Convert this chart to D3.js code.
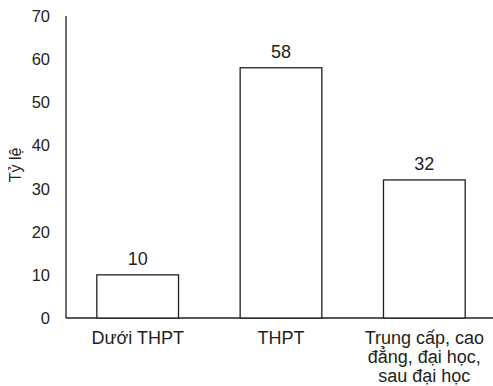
<!DOCTYPE html>
<html><head><meta charset="utf-8">
<script src="https://cdn.jsdelivr.net/npm/d3@7"></script>
<style>body{margin:0;background:#fff}svg{display:block}text{font-family:"Liberation Sans",Arial,sans-serif;fill:#231f20}</style>
</head><body>
<svg id="c" width="493" height="386"></svg>
<script>
const categories = [["Dưới THPT"], ["THPT"], ["Trung cấp, cao", "đẳng, đại học,", "sau đại học"]];
const values = [10, 58, 32];
const yTicks = [0, 10, 20, 30, 40, 50, 60, 70];
const yTitle = "Tỷ lệ";

const svg = d3.select("#c");
const x0 = 66, x1 = 496, yTop = 16, yBot = 318;
const x = d3.scaleBand().domain(d3.range(categories.length)).range([x0, x1]).paddingInner(0.43).paddingOuter(0.215);
const y = d3.scaleLinear().domain([0, 70]).range([yBot, yTop]);
const ink = "#231f20";

svg.append("line").attr("x1", x0).attr("x2", x0).attr("y1", yTop).attr("y2", yBot).attr("stroke", ink).attr("stroke-width", 1.3);
svg.append("line").attr("x1", x0).attr("x2", 493).attr("y1", yBot).attr("y2", yBot).attr("stroke", ink).attr("stroke-width", 1.3);

svg.selectAll(".yt").data(yTicks).join("text").attr("class", "yt")
  .attr("x", 50).attr("y", d => y(d)).attr("dy", "0.36em").attr("text-anchor", "end")
  .style("font-size", "16.5px").text(d => d);

svg.append("text").attr("transform", `translate(21,${(yTop + yBot) / 2 - 2}) rotate(-90)`)
  .attr("text-anchor", "middle").style("font-size", "16px").text(yTitle);

svg.selectAll(".bar").data(values).join("rect").attr("class", "bar")
  .attr("x", (d, i) => x(i)).attr("width", x.bandwidth())
  .attr("y", d => y(d)).attr("height", d => yBot - y(d))
  .attr("fill", "#fff").attr("stroke", ink).attr("stroke-width", 1.3);

svg.selectAll(".vl").data(values).join("text").attr("class", "vl")
  .attr("x", (d, i) => x(i) + x.bandwidth() / 2).attr("y", d => y(d) - 9.5)
  .attr("text-anchor", "middle").style("font-size", "18px").text(d => d);

const g = svg.selectAll(".xl").data(categories).join("text").attr("class", "xl")
  .attr("x", (d, i) => x(i) + x.bandwidth() / 2).attr("y", 344)
  .attr("text-anchor", "middle").style("font-size", "18px");
g.selectAll("tspan").data(d => d).join("tspan")
  .attr("x", function () { return this.parentNode.getAttribute("x"); })
  .attr("dy", (d, i) => i === 0 ? 0 : 19).text(d => d);
</script>
</body></html>
